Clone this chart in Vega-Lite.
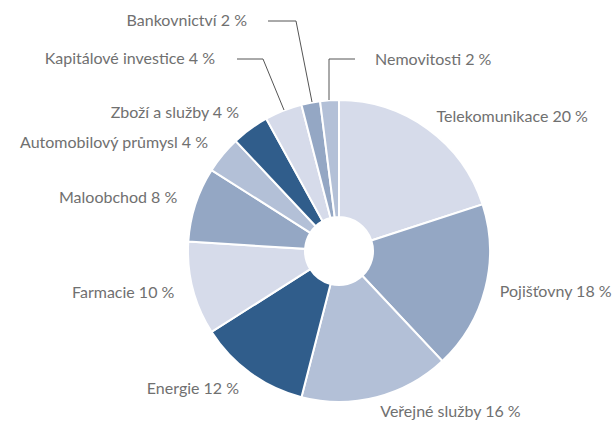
{
  "$schema": "https://vega.github.io/schema/vega-lite/v6.json",
  "width": 550,
  "height": 352,
  "autosize": {"type": "none"},
  "padding": {"left": 64, "top": 75, "right": 0, "bottom": 0},
  "background": "white",
  "config": {
    "view": {"stroke": null},
    "text": {"font": "Lato", "fontSize": 16, "fontWeight": 400, "color": "#707070"}
  },
  "datasets": {
    "sectors": [
      {"sector": "Telekomunikace", "share": 20, "order": 1},
      {"sector": "Pojišťovny", "share": 18, "order": 2},
      {"sector": "Veřejné služby", "share": 16, "order": 3},
      {"sector": "Energie", "share": 12, "order": 4},
      {"sector": "Farmacie", "share": 10, "order": 5},
      {"sector": "Maloobchod", "share": 8, "order": 6},
      {"sector": "Automobilový průmysl", "share": 4, "order": 7},
      {"sector": "Zboží a služby", "share": 4, "order": 8},
      {"sector": "Kapitálové investice", "share": 4, "order": 9},
      {"sector": "Bankovnictví", "share": 2, "order": 10},
      {"sector": "Nemovitosti", "share": 2, "order": 11}
    ],
    "leaders": [
      {"sector": "Bankovnictví", "step": 1, "dx": -71, "dy": -230},
      {"sector": "Bankovnictví", "step": 2, "dx": -43, "dy": -230},
      {"sector": "Bankovnictví", "step": 3, "dx": -27, "dy": -149},
      {"sector": "Kapitálové investice", "step": 1, "dx": -102, "dy": -192},
      {"sector": "Kapitálové investice", "step": 2, "dx": -76, "dy": -192},
      {"sector": "Kapitálové investice", "step": 3, "dx": -55, "dy": -141},
      {"sector": "Nemovitosti", "step": 1, "dx": 16, "dy": -192},
      {"sector": "Nemovitosti", "step": 2, "dx": -10, "dy": -192},
      {"sector": "Nemovitosti", "step": 3, "dx": -10, "dy": -151}
    ],
    "callouts": [
      {"sector": "Bankovnictví", "share": 2, "dx": -92, "dy": -230, "side": "left"},
      {"sector": "Kapitálové investice", "share": 4, "dx": -124, "dy": -192, "side": "left"},
      {"sector": "Nemovitosti", "share": 2, "dx": 36, "dy": -191, "side": "right"}
    ]
  },
  "layer": [
    {
      "data": {"name": "sectors"},
      "mark": {"type": "arc", "innerRadius": 34, "outerRadius": 151, "stroke": "white", "strokeWidth": 2},
      "encoding": {
        "theta": {"field": "share", "type": "quantitative", "stack": true, "scale": {"domain": [0, 100]}},
        "order": {"field": "order", "type": "quantitative"},
        "color": {
          "field": "sector",
          "type": "nominal",
          "legend": null,
          "scale": {
            "domain": ["Telekomunikace", "Pojišťovny", "Veřejné služby", "Energie", "Farmacie", "Maloobchod", "Automobilový průmysl", "Zboží a služby", "Kapitálové investice", "Bankovnictví", "Nemovitosti"],
            "range": ["#d6dbea", "#94a7c4", "#b3c0d7", "#305d8b", "#d6dbea", "#94a7c4", "#b3c0d7", "#305d8b", "#d6dbea", "#94a7c4", "#b3c0d7"]
          }
        }
      }
    },
    {
      "data": {"name": "sectors"},
      "transform": [
        {"window": [{"op": "sum", "field": "share", "as": "cum"}], "sort": [{"field": "order"}], "frame": [null, 0]},
        {"calculate": "datum.cum - datum.share / 2", "as": "mid"},
        {"calculate": "datum.sector + ' ' + datum.share + ' %'", "as": "label"},
        {"filter": "datum.order <= 8 && datum.mid < 50"}
      ],
      "mark": {"type": "text", "radius": 166, "align": "left", "baseline": "middle"},
      "encoding": {
        "theta": {"field": "mid", "type": "quantitative", "stack": null, "scale": {"domain": [0, 100]}},
        "text": {"field": "label"}
      }
    },
    {
      "data": {"name": "sectors"},
      "transform": [
        {"window": [{"op": "sum", "field": "share", "as": "cum"}], "sort": [{"field": "order"}], "frame": [null, 0]},
        {"calculate": "datum.cum - datum.share / 2", "as": "mid"},
        {"calculate": "datum.sector + ' ' + datum.share + ' %'", "as": "label"},
        {"filter": "datum.order <= 8 && datum.mid >= 50"}
      ],
      "mark": {"type": "text", "radius": 170, "align": "right", "baseline": "middle"},
      "encoding": {
        "theta": {"field": "mid", "type": "quantitative", "stack": null, "scale": {"domain": [0, 100]}},
        "text": {"field": "label"}
      }
    },
    {
      "data": {"name": "leaders"},
      "mark": {"type": "line", "color": "#555555", "strokeWidth": 1},
      "encoding": {
        "x": {"field": "dx", "type": "quantitative", "axis": null, "scale": {"domain": [-275, 275], "nice": false, "zero": false}},
        "y": {"field": "dy", "type": "quantitative", "axis": null, "scale": {"domain": [-176, 176], "nice": false, "zero": false, "reverse": true}},
        "order": {"field": "step", "type": "quantitative"},
        "detail": {"field": "sector", "type": "nominal"}
      }
    },
    {
      "data": {"name": "callouts"},
      "transform": [
        {"calculate": "datum.sector + ' ' + datum.share + ' %'", "as": "label"},
        {"filter": "datum.side == 'left'"}
      ],
      "mark": {"type": "text", "align": "right", "baseline": "middle"},
      "encoding": {
        "x": {"field": "dx", "type": "quantitative", "axis": null, "scale": {"domain": [-275, 275], "nice": false, "zero": false}},
        "y": {"field": "dy", "type": "quantitative", "axis": null, "scale": {"domain": [-176, 176], "nice": false, "zero": false, "reverse": true}},
        "text": {"field": "label"}
      }
    },
    {
      "data": {"name": "callouts"},
      "transform": [
        {"calculate": "datum.sector + ' ' + datum.share + ' %'", "as": "label"},
        {"filter": "datum.side == 'right'"}
      ],
      "mark": {"type": "text", "align": "left", "baseline": "middle"},
      "encoding": {
        "x": {"field": "dx", "type": "quantitative", "axis": null, "scale": {"domain": [-275, 275], "nice": false, "zero": false}},
        "y": {"field": "dy", "type": "quantitative", "axis": null, "scale": {"domain": [-176, 176], "nice": false, "zero": false, "reverse": true}},
        "text": {"field": "label"}
      }
    }
  ]
}
